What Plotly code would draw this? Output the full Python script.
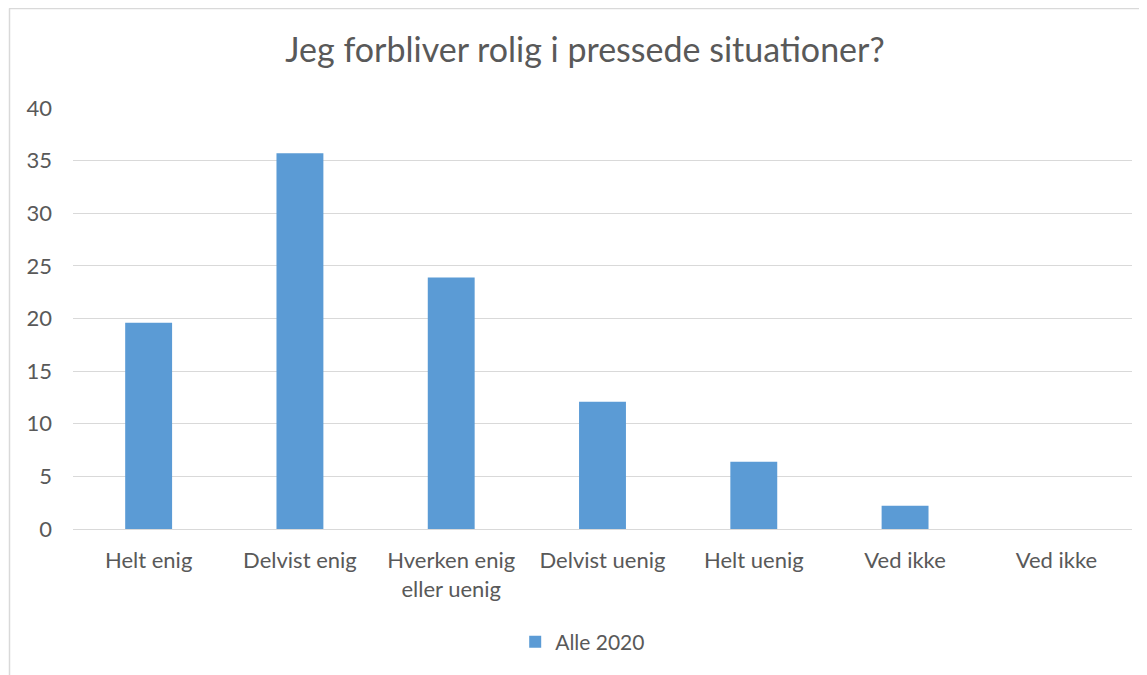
import plotly.graph_objects as go

categories = ["Helt enig", "Delvist enig", "Hverken enig<br>eller uenig", "Delvist uenig",
              "Helt uenig", "Ved ikke", "Ved ikke"]
values = [19.6, 35.7, 23.9, 12.1, 6.4, 2.2, 0]
series_name = "Alle 2020"
y_ticks = [0, 5, 10, 15, 20, 25, 30, 35, 40]

positions = list(range(len(categories)))

# page body has an 8px margin; work in reference pixels and shift
OFF = 8
W, H = 1147 - OFF, 675 - OFF
L, R, T, B = 73 - OFF, 15, 108 - OFF, 146
pw, ph = W - L - R, H - T - B

FONT = "Lato"
GREY = "#595959"

fig = go.Figure()
fig.add_trace(go.Bar(
    x=positions, y=values, name=series_name,
    marker=dict(color="#5b9bd5", line=dict(width=0)),
    width=0.31, showlegend=True,
))

def px_x(p):
    return (p - OFF - L) / pw

def px_y(p):
    return (H - B - (p - OFF)) / ph

fig.update_layout(
    width=W, height=H,
    margin=dict(l=L, r=R, t=T, b=B),
    paper_bgcolor="white", plot_bgcolor="white",
    font=dict(family=FONT, color=GREY, size=22),
    title=dict(text="Jeg forbliver rolig i pressede situationer?",
               x=px_x(585), xref="paper", xanchor="center",
               y=1 - (50 - OFF) / H, yanchor="middle",
               font=dict(family=FONT, size=34, color=GREY)),
    xaxis=dict(range=[-0.5, len(categories) - 0.5],
               tickmode="array", tickvals=positions, ticktext=categories,
               showgrid=False, zeroline=False, showline=False,
               ticks="", tickfont=dict(size=22, color=GREY),
               ticklabelstandoff=16),
    yaxis=dict(range=[0, 40], tickmode="array", tickvals=y_ticks,
               showgrid=True, gridcolor="#d9d9d9", gridwidth=1.2,
               zeroline=True, zerolinecolor="#d9d9d9", zerolinewidth=1.2,
               showline=False, ticks="", ticklabelstandoff=20,
               tickfont=dict(size=22, color=GREY)),
    legend=dict(orientation="h", x=px_x(606) - 0.022, xanchor="center",
                y=px_y(642), yanchor="middle",
                font=dict(size=21, color=GREY),
                itemwidth=30, bgcolor="rgba(0,0,0,0)"),
    shapes=[
        dict(type="line", xref="paper", yref="paper",
             x0=px_x(9), x1=px_x(1150), y0=px_y(8.5), y1=px_y(8.5),
             line=dict(color="#d9d9d9", width=1.5)),
        dict(type="line", xref="paper", yref="paper",
             x0=px_x(9.5), x1=px_x(9.5), y0=px_y(8.5), y1=px_y(680),
             line=dict(color="#d9d9d9", width=1.5)),
    ],
)

fig.write_html("out.html")
